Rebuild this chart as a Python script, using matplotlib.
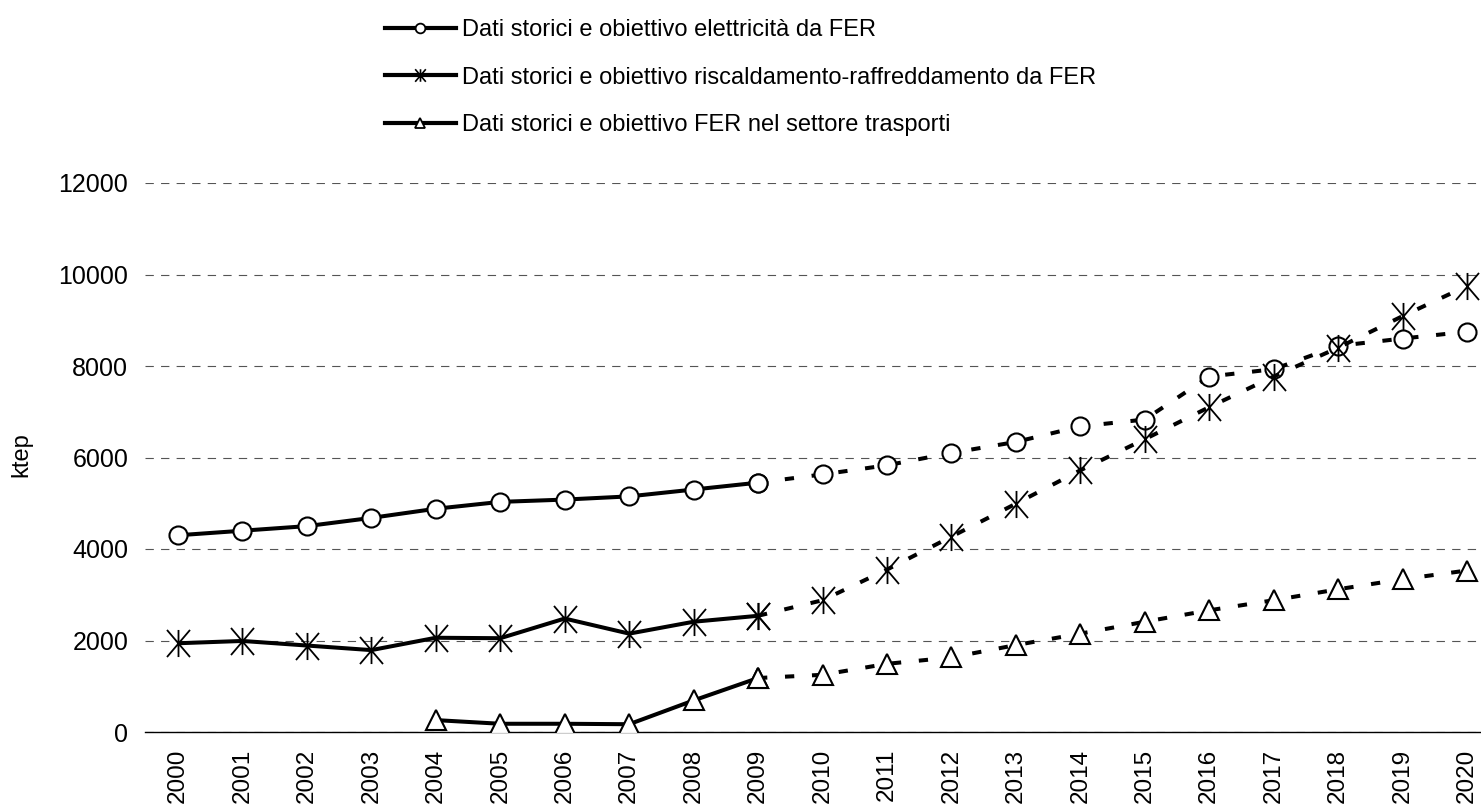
#!/usr/bin/env python3

import matplotlib
matplotlib.use("Agg")
import matplotlib.pyplot as plt
from matplotlib.lines import Line2D
from matplotlib.path import Path

# --- data (ktep) ---
years = list(range(2000, 2021))
hist_years = list(range(2000, 2010))
target_years = list(range(2009, 2021))
trans_hist_years = list(range(2004, 2010))

elec_hist = [4300, 4400, 4500, 4680, 4880, 5030, 5080, 5150, 5300, 5450]
elec_target = [5450, 5630, 5830, 6100, 6340, 6680, 6830, 7770, 7930, 8440, 8600, 8750]

heat_hist = [1940, 1990, 1890, 1790, 2060, 2050, 2480, 2150, 2410, 2540]
heat_target = [2540, 2880, 3550, 4270, 4990, 5720, 6400, 7100, 7770, 8400, 9090, 9750]

trans_hist = [260, 180, 180, 170, 690, 1180]
trans_target = [1180, 1250, 1490, 1630, 1900, 2150, 2410, 2660, 2880, 3120, 3340, 3530]

labels = [
    "Dati storici e obiettivo elettricità da FER",
    "Dati storici e obiettivo riscaldamento-raffreddamento da FER",
    "Dati storici e obiettivo FER nel settore trasporti",
]
yticks = [0, 2000, 4000, 6000, 8000, 10000, 12000]

plt.rcParams['font.family'] = ['Liberation Sans', 'DejaVu Sans']

# asterisk marker: vertical bar + X
star = Path([(0, -1), (0, 1), (-0.85, -1), (0.85, 1), (-0.85, 1), (0.85, -1)],
            [Path.MOVETO, Path.LINETO, Path.MOVETO, Path.LINETO, Path.MOVETO, Path.LINETO])

W, H = 1481, 806
fig = plt.figure(figsize=(W / 100, H / 100), dpi=100)
ax = fig.add_axes([145 / W, 74 / H, 1336 / W, 549 / H])

lw = 2.9
dash = (0, (2.3, 4.4))
styles = [
    dict(marker='o', ms=13, mfc='white', mec='black', mew=1.5),
    dict(marker=star, ms=19.5, mfc='none', mec='black', mew=1.3),
    dict(marker='^', ms=14.5, mfc='white', mec='black', mew=1.5),
]
series = [
    (hist_years, elec_hist, target_years, elec_target),
    (hist_years, heat_hist, target_years, heat_target),
    (trans_hist_years, trans_hist, target_years, trans_target),
]

for (hx, hy, tx, ty), st in zip(series, styles):
    ax.plot(tx, ty, color='black', lw=lw, linestyle=dash, zorder=3, **st)
    ax.plot(hx, hy, color='black', lw=lw, solid_capstyle='butt', zorder=3, **st)

# axes formatting
ax.set_xlim(1999.488, 2020.217)
ax.set_ylim(0, 12000)
ax.set_xticks(years)
ax.set_xticklabels([str(y) for y in years], rotation=90, fontsize=17.5)
ax.set_yticks(yticks)
ax.set_yticklabels([str(v) for v in yticks], fontsize=18)
ax.tick_params(axis='x', length=0, pad=12)
ax.tick_params(axis='y', length=0, pad=12)
for s in ['left', 'top', 'right']:
    ax.spines[s].set_visible(False)
ax.spines['bottom'].set_linewidth(1.0)
ax.spines['bottom'].set_color('black')
ax.yaxis.grid(True, color='#555555', lw=0.8, linestyle=(0, (7.5, 6.5)))
ax.set_axisbelow(True)

ax.set_ylabel("ktep", fontsize=17)
ax.yaxis.set_label_coords((32 - 145) / 1336, (732 - 455) / 549)

# legend with small markers
handles = [
    Line2D([], [], color='black', lw=3, marker='o', ms=7, mfc='white', mec='black', mew=1.3),
    Line2D([], [], color='black', lw=3, marker=star, ms=9, mfc='none', mec='black', mew=1.2),
    Line2D([], [], color='black', lw=3, marker='^', ms=7.5, mfc='white', mec='black', mew=1.3),
]
ax.legend(handles, labels, loc='upper left', bbox_to_anchor=(385 / W, 1 - 19 / H),
          bbox_transform=fig.transFigure, frameon=False, fontsize=17,
          handlelength=3.0, handletextpad=0.25, labelspacing=1.08,
          borderpad=0, borderaxespad=0)

fig.savefig("out.png", dpi=100)
